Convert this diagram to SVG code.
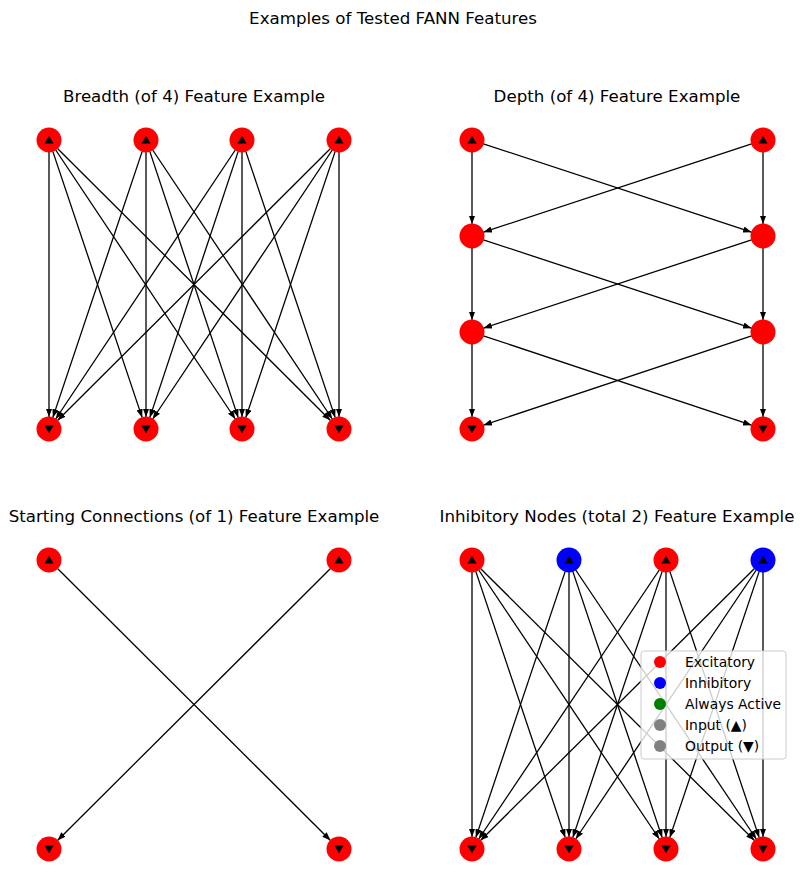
<svg xmlns="http://www.w3.org/2000/svg" xmlns:xlink="http://www.w3.org/1999/xlink" width="804" height="890" viewBox="0 0 804 890">
<style>
text{font-family:"DejaVu Sans","Liberation Sans",sans-serif;fill:#000}
.t{font-size:16.67px;text-anchor:middle}
.lg{font-size:13.9px}
.e line{stroke:#000;stroke-width:1.3;marker-end:url(#ah)}
.n{fill:#ff0000}
.b{fill:#0000ff}
</style>
<defs>
<marker id="ah" markerUnits="userSpaceOnUse" markerWidth="9" markerHeight="7" refX="8.5" refY="3.2" orient="auto">
<path d="M0,0 L8.5,3.2 L0,6.4 z" fill="#000"/>
</marker>
<path id="up" d="M0,-4.2 L4.6,3.6 L-4.6,3.6 z" fill="#000"/>
<path id="dn" d="M0,4.2 L4.6,-3.6 L-4.6,-3.6 z" fill="#000"/>
</defs>
<rect width="804" height="890" fill="#fff"/>
<text class="t" x="393" y="24">Examples of Tested FANN Features</text>
<text class="t" x="194" y="102">Breadth (of 4) Feature Example</text>
<text class="t" x="617" y="102">Depth (of 4) Feature Example</text>
<text class="t" x="194" y="522">Starting Connections (of 1) Feature Example</text>
<text class="t" x="617" y="522">Inhibitory Nodes (total 2) Feature Example</text>

<g id="connectors" class="e">
<!-- breadth -->
<line x1="49" y1="152" x2="49" y2="417"/>
<line x1="52.8" y1="151.4" x2="142.2" y2="417.6"/>
<line x1="55.7" y1="150" x2="235.3" y2="419"/>
<line x1="57.5" y1="148.5" x2="330.5" y2="420.5"/>
<line x1="142.2" y1="151.4" x2="52.8" y2="417.6"/>
<line x1="146" y1="152" x2="146" y2="417"/>
<line x1="149.8" y1="151.4" x2="238.2" y2="417.6"/>
<line x1="152.7" y1="150" x2="332.3" y2="419"/>
<line x1="235.3" y1="150" x2="55.7" y2="419"/>
<line x1="238.2" y1="151.4" x2="149.8" y2="417.6"/>
<line x1="242" y1="152" x2="242" y2="417"/>
<line x1="245.8" y1="151.4" x2="335.2" y2="417.6"/>
<line x1="330.5" y1="148.5" x2="57.5" y2="420.5"/>
<line x1="332.3" y1="150" x2="152.7" y2="419"/>
<line x1="335.2" y1="151.4" x2="245.8" y2="417.6"/>
<line x1="339" y1="152" x2="339" y2="417"/>
<!-- depth -->
<line x1="472" y1="152" x2="472" y2="224"/>
<line x1="483.4" y1="143.8" x2="751.6" y2="232.2"/>
<line x1="751.6" y1="143.8" x2="483.4" y2="232.2"/>
<line x1="763" y1="152" x2="763" y2="224"/>
<line x1="472" y1="248" x2="472" y2="320"/>
<line x1="483.4" y1="239.8" x2="751.6" y2="328.2"/>
<line x1="751.6" y1="239.8" x2="483.4" y2="328.2"/>
<line x1="763" y1="248" x2="763" y2="320"/>
<line x1="472" y1="344" x2="472" y2="417"/>
<line x1="483.4" y1="335.8" x2="751.6" y2="425.2"/>
<line x1="751.6" y1="335.8" x2="483.4" y2="425.2"/>
<line x1="763" y1="344" x2="763" y2="417"/>
<!-- starting connections -->
<line x1="57.5" y1="568.5" x2="330.5" y2="840.5"/>
<line x1="330.5" y1="568.5" x2="57.5" y2="840.5"/>
<!-- inhibitory -->
<line x1="472" y1="572" x2="472" y2="837"/>
<line x1="475.8" y1="571.4" x2="565.2" y2="837.6"/>
<line x1="478.7" y1="570" x2="659.3" y2="839"/>
<line x1="480.5" y1="568.5" x2="754.5" y2="840.5"/>
<line x1="565.2" y1="571.4" x2="475.8" y2="837.6"/>
<line x1="569" y1="572" x2="569" y2="837"/>
<line x1="572.8" y1="571.4" x2="662.2" y2="837.6"/>
<line x1="575.7" y1="570" x2="756.3" y2="839"/>
<line x1="659.3" y1="570" x2="478.7" y2="839"/>
<line x1="662.2" y1="571.4" x2="572.8" y2="837.6"/>
<line x1="666" y1="572" x2="666" y2="837"/>
<line x1="669.8" y1="571.4" x2="759.2" y2="837.6"/>
<line x1="754.5" y1="568.5" x2="480.5" y2="840.5"/>
<line x1="756.3" y1="570" x2="575.7" y2="839"/>
<line x1="759.2" y1="571.4" x2="669.8" y2="837.6"/>
<line x1="763" y1="572" x2="763" y2="837"/>
</g>

<!-- Breadth nodes -->
<g id="b_in1"><circle class="n" cx="49" cy="140" r="12.5"/><use href="#up" x="49" y="140"/></g>
<g id="b_in2"><circle class="n" cx="146" cy="140" r="12.5"/><use href="#up" x="146" y="140"/></g>
<g id="b_in3"><circle class="n" cx="242" cy="140" r="12.5"/><use href="#up" x="242" y="140"/></g>
<g id="b_in4"><circle class="n" cx="339" cy="140" r="12.5"/><use href="#up" x="339" y="140"/></g>
<g id="b_out1"><circle class="n" cx="49" cy="429" r="12.5"/><use href="#dn" x="49" y="429"/></g>
<g id="b_out2"><circle class="n" cx="146" cy="429" r="12.5"/><use href="#dn" x="146" y="429"/></g>
<g id="b_out3"><circle class="n" cx="242" cy="429" r="12.5"/><use href="#dn" x="242" y="429"/></g>
<g id="b_out4"><circle class="n" cx="339" cy="429" r="12.5"/><use href="#dn" x="339" y="429"/></g>

<!-- Depth nodes -->
<g id="d_in1"><circle class="n" cx="472" cy="140" r="12.5"/><use href="#up" x="472" y="140"/></g>
<g id="d_in2"><circle class="n" cx="763" cy="140" r="12.5"/><use href="#up" x="763" y="140"/></g>
<g id="d_h1a"><circle class="n" cx="472" cy="236" r="12.5"/></g>
<g id="d_h1b"><circle class="n" cx="763" cy="236" r="12.5"/></g>
<g id="d_h2a"><circle class="n" cx="472" cy="332" r="12.5"/></g>
<g id="d_h2b"><circle class="n" cx="763" cy="332" r="12.5"/></g>
<g id="d_out1"><circle class="n" cx="472" cy="429" r="12.5"/><use href="#dn" x="472" y="429"/></g>
<g id="d_out2"><circle class="n" cx="763" cy="429" r="12.5"/><use href="#dn" x="763" y="429"/></g>

<!-- Starting connections nodes -->
<g id="s_in1"><circle class="n" cx="49" cy="560" r="12.5"/><use href="#up" x="49" y="560"/></g>
<g id="s_in2"><circle class="n" cx="339" cy="560" r="12.5"/><use href="#up" x="339" y="560"/></g>
<g id="s_out1"><circle class="n" cx="49" cy="849" r="12.5"/><use href="#dn" x="49" y="849"/></g>
<g id="s_out2"><circle class="n" cx="339" cy="849" r="12.5"/><use href="#dn" x="339" y="849"/></g>

<!-- Inhibitory nodes -->
<g id="i_in1"><circle class="n" cx="472" cy="560" r="12.5"/><use href="#up" x="472" y="560"/></g>
<g id="i_in2"><circle class="b" cx="569" cy="560" r="12.5"/><use href="#up" x="569" y="560"/></g>
<g id="i_in3"><circle class="n" cx="666" cy="560" r="12.5"/><use href="#up" x="666" y="560"/></g>
<g id="i_in4"><circle class="b" cx="763" cy="560" r="12.5"/><use href="#up" x="763" y="560"/></g>
<g id="i_out1"><circle class="n" cx="472" cy="849" r="12.5"/><use href="#dn" x="472" y="849"/></g>
<g id="i_out2"><circle class="n" cx="569" cy="849" r="12.5"/><use href="#dn" x="569" y="849"/></g>
<g id="i_out3"><circle class="n" cx="666" cy="849" r="12.5"/><use href="#dn" x="666" y="849"/></g>
<g id="i_out4"><circle class="n" cx="763" cy="849" r="12.5"/><use href="#dn" x="763" y="849"/></g>

<!-- Legend -->
<g id="legend">
<rect x="641" y="651" width="145" height="108" rx="3" fill="#fff" fill-opacity="0.8" stroke="#cccccc" stroke-width="1"/>
<circle cx="660" cy="662" r="6" fill="#ff0000"/>
<circle cx="660" cy="683" r="6" fill="#0000ff"/>
<circle cx="660" cy="704" r="6" fill="#008000"/>
<circle cx="660" cy="725" r="6" fill="#808080"/>
<circle cx="660" cy="746" r="6" fill="#808080"/>
<text class="lg" x="685" y="667">Excitatory</text>
<text class="lg" x="685" y="688">Inhibitory</text>
<text class="lg" x="685" y="709">Always Active</text>
<text class="lg" x="685" y="730">Input (▲)</text>
<text class="lg" x="685" y="751">Output (▼)</text>
</g>
</svg>
